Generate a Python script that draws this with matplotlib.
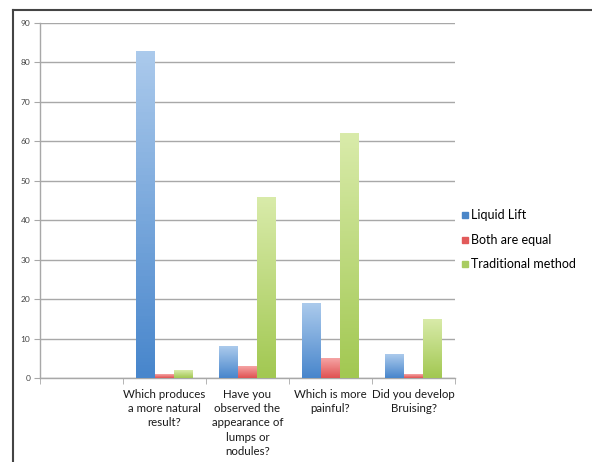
import numpy as np
import matplotlib.pyplot as plt
from matplotlib.colors import LinearSegmentedColormap
from matplotlib.lines import Line2D

plt.rcParams['font.family'] = ['Lato', 'DejaVu Sans']

categories = ["", "Which produces\na more natural\nresult?",
              "Have you\nobserved the\nappearance of\nlumps or\nnodules?",
              "Which is more\npainful?", "Did you develop\nBruising?"]
series_names = ["Liquid Lift", "Both are equal", "Traditional method"]
liquid_lift = [None, 83, 8, 19, 6]
both_equal = [None, 1, 3, 5, 1]
traditional = [None, 2, 46, 62, 15]

# (top colour, bottom colour, legend colour)
styles = [("#abcaec", "#4886cc", "#4a86c8"),
          ("#f5a4a4", "#e05252", "#e25a5a"),
          ("#d9ebaa", "#a2c852", "#a8cc60")]

fig = plt.figure(figsize=(5.92, 4.62), dpi=100)
ax = fig.add_axes([40 / 592, 1 - 378 / 462, 415 / 592, 355 / 462])

x = np.arange(len(categories))
width = 0.225
for i, vals in enumerate([liquid_lift, both_equal, traditional]):
    top, bottom, _ = styles[i]
    cmap = LinearSegmentedColormap.from_list("g%d" % i, [bottom, top])
    for xi, v in zip(x, vals):
        if v is None:
            continue
        left = xi + (i - 1) * width - width / 2
        bar = ax.bar(left, v, width=width, align='edge', color=bottom,
                     linewidth=0, zorder=2)[0]
        grad = np.linspace(0, 1, 100).reshape(-1, 1)
        im = ax.imshow(grad, cmap=cmap, origin='lower', aspect='auto',
                       extent=(left, left + width, 0, v), zorder=3)
        im.set_clip_path(bar)

ax.set_xlim(-0.5, len(categories) - 0.5)
ax.set_ylim(0, 90)
ax.set_yticks(range(0, 91, 10))
ax.yaxis.grid(True, color="#a8a8a8", linewidth=1.0, zorder=0)
ax.set_axisbelow(True)

ax.set_xticks(x)
ax.set_xticklabels(categories, fontsize=8.3, color="#1a1a1a", linespacing=1.35)
ax.set_xticks(np.arange(-0.5, len(categories), 1), minor=True)
ax.tick_params(axis='x', which='major', length=0, pad=8)
ax.tick_params(axis='x', which='minor', length=4, color="#a8a8a8", direction='out')
ax.tick_params(axis='y', length=4, color="#a8a8a8", labelsize=6,
               labelcolor="#444444", pad=3)

for s in ['top', 'right']:
    ax.spines[s].set_visible(False)
for s in ['left', 'bottom']:
    ax.spines[s].set_color("#a8a8a8")
    ax.spines[s].set_linewidth(1.0)

handles = [Line2D([], [], marker='s', linestyle='none', markersize=5,
                  markerfacecolor=st[2], markeredgecolor=st[2])
           for st in styles]
fig.legend(handles, series_names, loc='center left',
           bbox_to_anchor=(447 / 592, 1 - 240 / 462), frameon=False,
           fontsize=9, handletextpad=0.0, labelspacing=1.0,
           handlelength=1.0)

# frame lines at the top and left of the figure
fig.add_artist(Line2D([13 / 592, 1], [1 - 10 / 462, 1 - 10 / 462],
                      color="#444444", linewidth=1.5))
fig.add_artist(Line2D([13 / 592, 13 / 592], [0, 1 - 10 / 462],
                      color="#444444", linewidth=1.5))

fig.savefig("out.png", dpi=100)
